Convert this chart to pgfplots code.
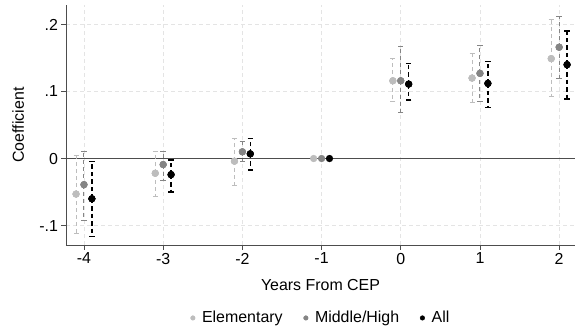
\documentclass[border=0pt]{standalone}
\usepackage{pgfplots}
\usepackage{pgfplotstable}
\pgfplotsset{compat=1.18}
\usepackage{fontspec}
\setmainfont{Liberation Sans}
\definecolor{elemc}{HTML}{BDBDBD}
\definecolor{midc}{HTML}{858585}
\definecolor{allc}{HTML}{000000}
\definecolor{gridc}{HTML}{E4E4E4}
\definecolor{axc}{HTML}{4D4D4D}

\pgfplotstableread{
x y ep em
-4.1 -0.053 0.058 0.058
-3.1 -0.022 0.033 0.034
-2.1 -0.004 0.034 0.036
-0.1 0.116 0.033 0.031
0.9 0.120 0.037 0.036
1.9 0.149 0.058 0.056
}\elem
\pgfplotstableread{
x y ep em
-4 -0.039 0.050 0.053
-3 -0.009 0.020 0.024
-2 0.010 0.015 0.015
0 0.116 0.051 0.047
1 0.127 0.041 0.042
2 0.166 0.046 0.046
}\mid
\pgfplotstableread{
x y ep em
-3.9 -0.060 0.056 0.056
-2.9 -0.024 0.022 0.026
-1.9 0.007 0.023 0.024
0.1 0.111 0.031 0.024
1.1 0.112 0.033 0.036
2.1 0.140 0.050 0.051
}\allt

\begin{document}
\begin{tikzpicture}
\begin{axis}[
  scale only axis,
  width=509bp, height=240bp,
  xmin=-4.227, xmax=2.2,
  ymin=-0.129, ymax=0.229,
  axis x line*=bottom, axis y line*=left,
  axis line style={axc, line width=0.9bp, -},
  tick align=outside,
  major tick length=4.5bp,
  tick style={axc, line width=0.9bp},
  xtick={-4,-3,-2,-1,0,1,2},
  xticklabels={-4,-3,-2,-1,0,1,2},
  ytick={-0.1,0,0.1,0.2},
  yticklabels={-.1,0,.1,.2},
  grid=major,
  major grid style={gridc, dashed, dash pattern=on 4bp off 3bp, line width=0.9bp},
  font=\fontsize{16}{19}\selectfont,
  xlabel={Years From CEP},
  ylabel={Coefficient},
  every axis x label/.style={at={(axis description cs:0.5,-0.1667)}, anchor=center},
  every axis y label/.style={at={(axis description cs:-0.094,0.5)}, anchor=center, rotate=90},
  legend style={at={(axis description cs:0.5,-0.304)}, anchor=center, draw=none, fill=none,
    legend columns=3, /tikz/every even column/.append style={column sep=18bp},
    font=\fontsize{16}{19}\selectfont},
  clip=true,
]
\addplot[axc, line width=1.1bp, forget plot] coordinates {(-5,0) (3,0)};

\addplot[only marks, mark=*, mark size=3.4bp, color=elemc, mark options={solid, draw=elemc, fill=elemc}, forget plot,
  error bars/.cd, y dir=both, y explicit,
  error bar style={elemc, line width=0.8bp, dash pattern=on 4bp off 3bp},
  error mark options={rotate=90, elemc, mark size=2.5bp, line width=0.8bp, solid}]
  table[x=x, y=y, y error plus=ep, y error minus=em] {\elem};
\addplot[only marks, mark=*, mark size=3.4bp, color=midc, mark options={solid, draw=midc, fill=midc}, forget plot,
  error bars/.cd, y dir=both, y explicit,
  error bar style={midc, line width=1bp, dash pattern=on 4bp off 3bp},
  error mark options={rotate=90, midc, mark size=2.7bp, line width=1bp, solid}]
  table[x=x, y=y, y error plus=ep, y error minus=em] {\mid};
\addplot[only marks, mark=*, mark size=3.4bp, color=allc, mark options={solid, draw=allc, fill=allc}, forget plot,
  error bars/.cd, y dir=both, y explicit,
  error bar style={allc, line width=1.4bp, dash pattern=on 4.5bp off 3bp},
  error mark options={rotate=90, allc, mark size=2.7bp, line width=1.4bp, solid}]
  table[x=x, y=y, y error plus=ep, y error minus=em] {\allt};

% redraw markers on top of the error bars
\addplot[only marks, mark=*, mark size=3.4bp, color=elemc, mark options={solid}, forget plot] table[x=x, y=y] {\elem};
\addplot[only marks, mark=*, mark size=3.4bp, color=midc, mark options={solid}, forget plot] table[x=x, y=y] {\mid};
\addplot[only marks, mark=*, mark size=3.4bp, color=allc, mark options={solid}, forget plot] table[x=x, y=y] {\allt};

\addplot[only marks, mark=*, mark size=3.4bp, color=elemc, forget plot] coordinates {(-1.1,0)};
\addplot[only marks, mark=*, mark size=3.4bp, color=midc, forget plot] coordinates {(-1,0)};
\addplot[only marks, mark=*, mark size=3.4bp, color=allc, forget plot] coordinates {(-0.9,0)};

\addlegendimage{legend image code/.code={\fill[elemc] (0bp,0bp) circle (2.3bp); \path (-3bp,0bp) (7bp,0bp);}}
\addlegendentry{Elementary}
\addlegendimage{legend image code/.code={\fill[midc] (0bp,0bp) circle (2.3bp); \path (-3bp,0bp) (7bp,0bp);}}
\addlegendentry{Middle/High}
\addlegendimage{legend image code/.code={\fill[allc] (0bp,0bp) circle (2.3bp); \path (-3bp,0bp) (7bp,0bp);}}
\addlegendentry{All}

\coordinate (SW) at (rel axis cs:0,0);
\coordinate (NE) at (rel axis cs:1,1);
\end{axis}
\pgfresetboundingbox
\path ([shift={(-66bp,-87bp)}]SW) rectangle ([shift={(0bp,5bp)}]NE);
\end{tikzpicture}
\end{document}
